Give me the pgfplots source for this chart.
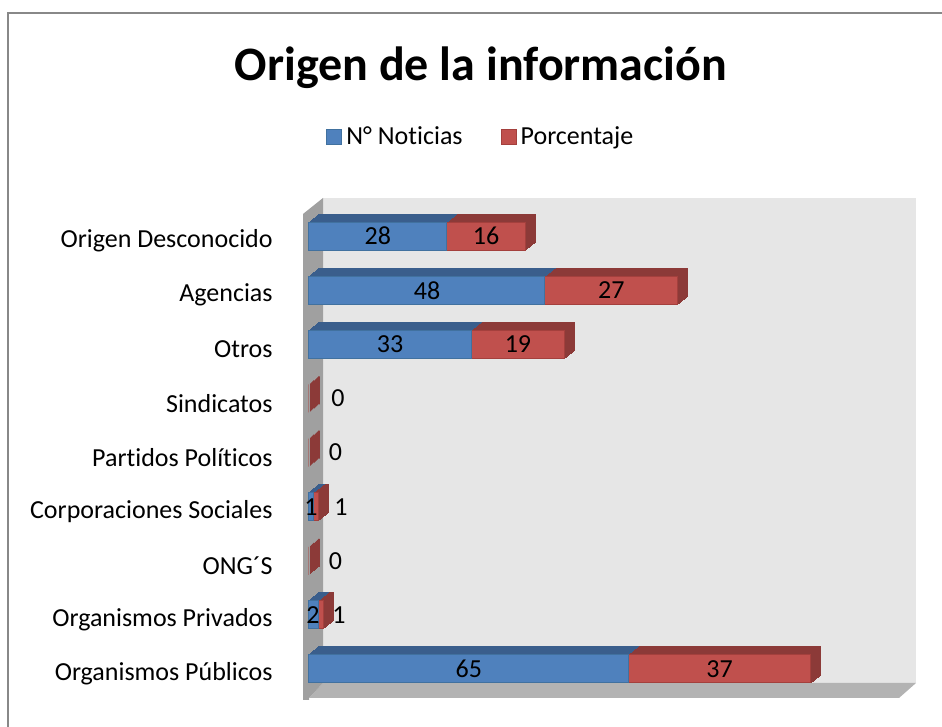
\documentclass[border=0pt]{standalone}
\usepackage{pgfplots}
\pgfplotsset{compat=1.18}
\usepackage{pgfplotstable}
\usepackage{fontspec}
\setmainfont{Carlito}[Ligatures={NoCommon}]
\definecolor{bluef}{HTML}{4F81BD}
\definecolor{bluel}{HTML}{41719F}
\definecolor{blued}{HTML}{3A5E8C}
\definecolor{redf}{HTML}{C0504D}
\definecolor{redl}{HTML}{A4403D}
\definecolor{redd}{HTML}{8C3A38}
\definecolor{wall}{HTML}{E6E6E6}
\definecolor{floorc}{HTML}{B3B3B3}
\definecolor{sidec}{HTML}{A0A0A0}
\definecolor{framec}{HTML}{888888}

% y: category index (0 = Organismos Publicos ... 8 = Origen Desconocido)
% N. Noticias (rows with value 0 draw no bar)
\pgfplotstableread{
y blue
0 65
1 2
3 1
6 33
7 48
8 28
}\bluetab
% Porcentaje: red = value, total = end of its stacked segment
\pgfplotstableread{
y red total
0 37 102
1 1 3
2 0 0
3 1 2
4 0 0
5 0 0
6 19 52
7 27 75
8 16 44
}\redtab

\pgfplotstableread{
x y l
32.5 0 65
83.5 0 37
0.8 1 2
6.1 1 1
5.4 2 0
0.4 3 1
6.5 3 1
5.4 4 0
5.9 5 0
16.5 6 33
42.5 6 19
24 7 48
61.5 7 27
14 8 28
36 8 16
}\labtab

\begin{document}
\begin{tikzpicture}
\useasboundingbox (-154.5pt,-14.5pt) rectangle (316.5pt,349pt);
\draw[framec, line width=1pt] (-150.5pt,-60pt) rectangle (360pt,342.5pt);
\fill[wall] (7pt,7.5pt) rectangle (303.5pt,250pt);
\fill[floorc] (0pt,0pt) -- (295pt,0pt) -- (303.5pt,7.5pt) -- (7pt,7.5pt) -- cycle;
\fill[sidec] (-3pt,-1pt) -- (-3pt,242pt) -- (7pt,250pt) -- (7pt,7.5pt) -- (0pt,0pt) -- (0pt,-1pt) -- cycle;
\node[font=\bfseries\fontsize{24}{28}\selectfont] at (86pt,315pt) {Origen de la información};
\begin{axis}[
  at={(0pt,0pt)}, anchor=south west,
  scale only axis, width=295pt, height=242pt,
  xmin=0, xmax=120, ymin=-0.536, ymax=8.41,
  bar width=14pt,
  clip=false,
  axis line style={draw=none},
  xtick=\empty,
  ytick={0,1,2,3,4,5,6,7,8},
  yticklabels={Organismos Públicos,Organismos Privados,ONG´S,Corporaciones Sociales,Partidos Políticos,Sindicatos,Otros,Agencias,Origen Desconocido},
  major tick length=0pt,
  yticklabel style={font=\fontsize{13}{15}\selectfont, inner sep=0pt, anchor=east, yshift=-2.5pt},
  yticklabel shift=18pt,
  legend style={at={(0.293,1.159)}, anchor=center, draw=none, fill=none,
    font=\fontsize{13}{15}\selectfont, legend columns=2,
    /tikz/every even column/.append style={column sep=17pt}},
  legend image code/.code={\draw[#1] (0pt,-3.75pt) rectangle (7.5pt,3.75pt);},
]
\pgfplotsinvokeforeach{8,7,6,5,4,3,2,1}{
  \addplot[xbar, forget plot, fill=redd, draw=redd, line width=0.6pt, xshift=#1*0.625pt, yshift=#1*0.5pt] table[x=total,y=y]{\redtab};
  \addplot[xbar, forget plot, fill=blued, draw=blued, line width=0.6pt, xshift=#1*0.625pt, yshift=#1*0.5pt] table[x=blue,y=y]{\bluetab};
}
\addplot[xbar, forget plot, fill=redf, draw=redl, line width=0.5pt] table[x=total,y=y]{\redtab};
\addplot[xbar, forget plot, fill=bluef, draw=bluel, line width=0.5pt] table[x=blue,y=y]{\bluetab};
\addplot[forget plot, sharp plot, draw=none, mark=none,
  nodes near coords, point meta=explicit symbolic,
  nodes near coords style={anchor=center, font=\fontsize{13}{15}\selectfont, text=black}]
  table[x=x,y=y,meta=l]{\labtab};
\addlegendimage{fill=bluef, draw=bluel, line width=0.5pt}
\addlegendentry{N° Noticias}
\addlegendimage{fill=redf, draw=redl, line width=0.5pt}
\addlegendentry{Porcentaje}
\end{axis}
\end{tikzpicture}
\end{document}
